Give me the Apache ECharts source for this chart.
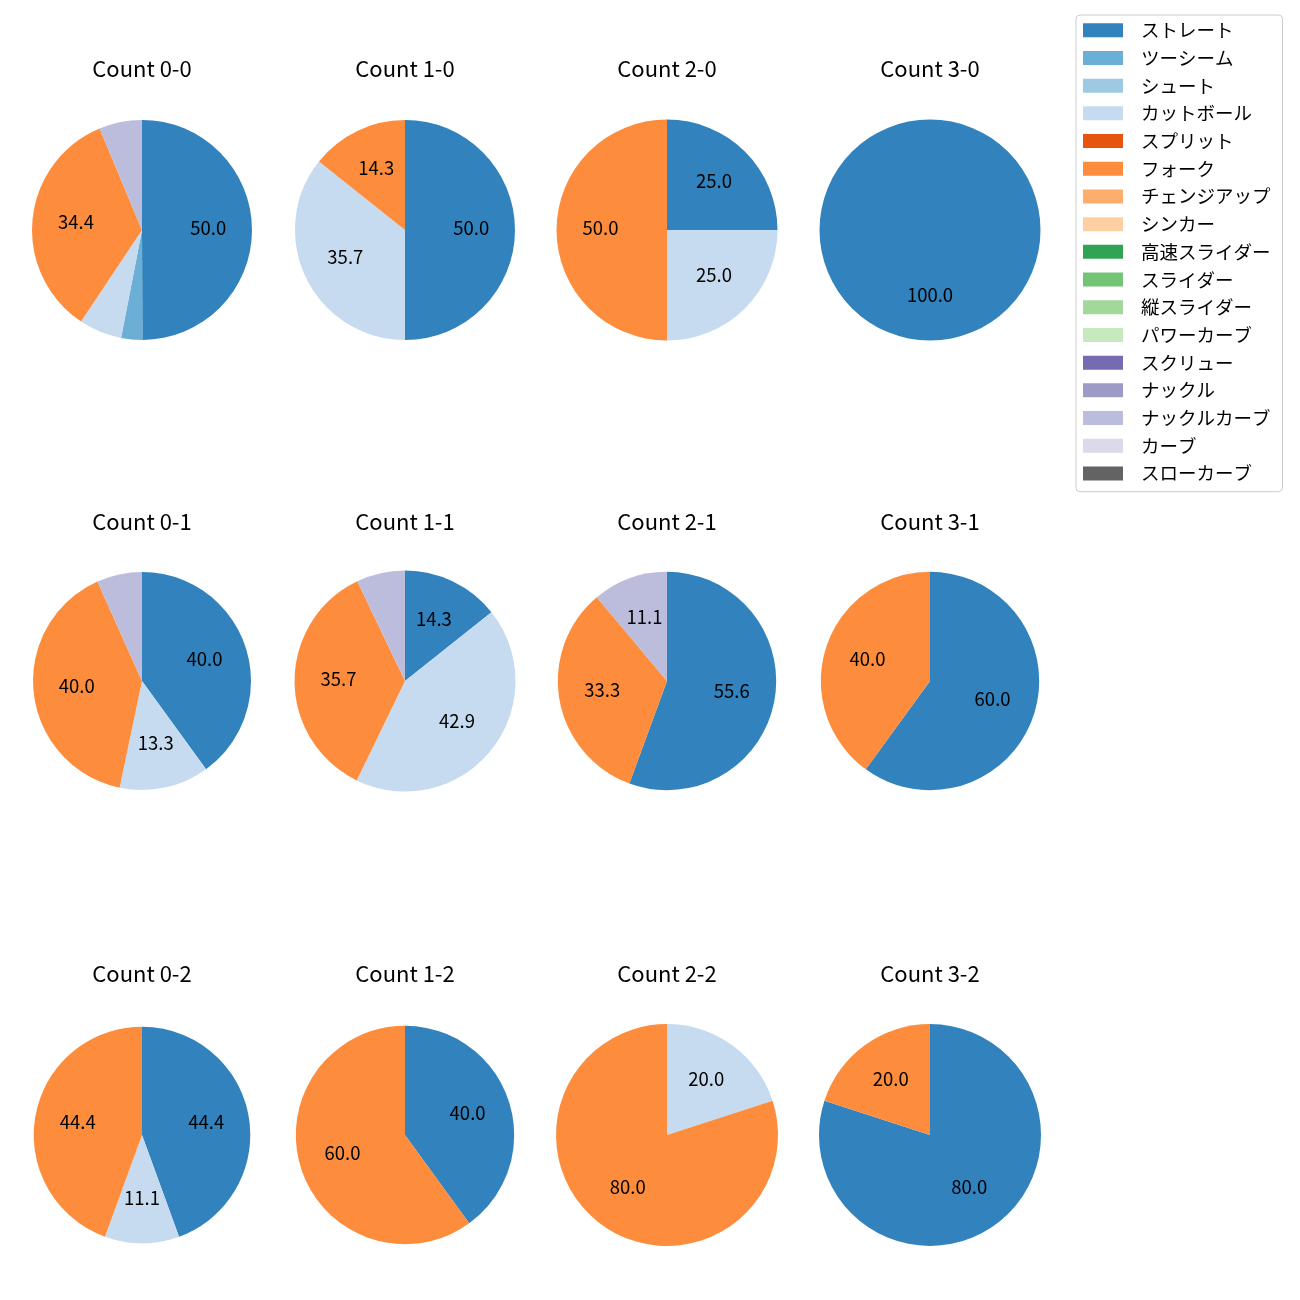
<!DOCTYPE html>
<html>
<head>
<meta charset="utf-8">
<script src="https://cdn.jsdelivr.net/npm/echarts@6/dist/echarts.min.js"></script>
<style>
html,body{margin:0;padding:0;background:#fff;}
#chart{width:1300px;height:1300px;}
</style>
</head>
<body>
<div id="chart"></div>
<script>
// Pitch types (legend order)
const pitchTypes = ['ストレート','ツーシーム','シュート','カットボール','スプリット','フォーク','チェンジアップ','シンカー','高速スライダー','スライダー','縦スライダー','パワーカーブ','スクリュー','ナックル','ナックルカーブ','カーブ','スローカーブ'];
const pitchColors = ['#3182bd','#6baed6','#9ecae1','#c6dbef','#e6550d','#fd8d3c','#fdae6b','#fdd0a2','#31a354','#74c476','#a1d99b','#c7e9c0','#756bb1','#9e9ac8','#bcbddc','#dadaeb','#636363'];

// Count titles
const countTitles = ['Count 0-0','Count 1-0','Count 2-0','Count 3-0','Count 0-1','Count 1-1','Count 2-1','Count 3-1','Count 0-2','Count 1-2','Count 2-2','Count 3-2'];

// Percentages per pitch type (same order as pitchTypes)
const count00 = [50.0, 3.1, 0, 6.3, 0, 34.4, 0, 0, 0, 0, 0, 0, 0, 0, 6.3, 0, 0];
const count10 = [50.0, 0, 0, 35.7, 0, 14.3, 0, 0, 0, 0, 0, 0, 0, 0, 0, 0, 0];
const count20 = [25.0, 0, 0, 25.0, 0, 50.0, 0, 0, 0, 0, 0, 0, 0, 0, 0, 0, 0];
const count30 = [100.0, 0, 0, 0, 0, 0, 0, 0, 0, 0, 0, 0, 0, 0, 0, 0, 0];
const count01 = [40.0, 0, 0, 13.3, 0, 40.0, 0, 0, 0, 0, 0, 0, 0, 0, 6.7, 0, 0];
const count11 = [14.3, 0, 0, 42.9, 0, 35.7, 0, 0, 0, 0, 0, 0, 0, 0, 7.1, 0, 0];
const count21 = [55.6, 0, 0, 0, 0, 33.3, 0, 0, 0, 0, 0, 0, 0, 0, 11.1, 0, 0];
const count31 = [60.0, 0, 0, 0, 0, 40.0, 0, 0, 0, 0, 0, 0, 0, 0, 0, 0, 0];
const count02 = [44.4, 0, 0, 11.1, 0, 44.4, 0, 0, 0, 0, 0, 0, 0, 0, 0, 0, 0];
const count12 = [40.0, 0, 0, 0, 0, 60.0, 0, 0, 0, 0, 0, 0, 0, 0, 0, 0, 0];
const count22 = [0, 0, 0, 20.0, 0, 80.0, 0, 0, 0, 0, 0, 0, 0, 0, 0, 0, 0];
const count32 = [80.0, 0, 0, 0, 0, 20.0, 0, 0, 0, 0, 0, 0, 0, 0, 0, 0, 0];

const allCounts = [count00,count10,count20,count30,count01,count11,count21,count31,count02,count12,count22,count32];

// Layout (pixel centers / radii of each pie, title rows)
const colX = [142, 405, 667, 930];
const rowY = [230, 681, 1135];
const titleY = [69, 522, 974];
const radii = [110, 110, 110.5, 110.5, 109, 110.5, 109.2, 109.2, 108.3, 109.2, 111, 111];

const FONT = 'Noto Sans CJK JP';

const titles = [];
const mainSeries = [];
const labelSeries = [];
allCounts.forEach((vals, i) => {
  const col = i % 4, row = Math.floor(i / 4);
  const cx = colX[col], cy = rowY[row], r = radii[i];
  titles.push({
    text: countTitles[i],
    left: cx, top: titleY[row] - 12, textAlign: 'center', padding: 0,
    textStyle: {fontFamily: FONT, fontSize: 22, fontWeight: 'normal', color: '#000', lineHeight: 24}
  });
  const data = pitchTypes.map((n, k) => ({name: n, value: vals[k], itemStyle: {color: pitchColors[k]}}));
  mainSeries.push({
    type: 'pie', center: [cx, cy], radius: [0, r], startAngle: 90, clockwise: true,
    label: {show: false}, labelLine: {show: false},
    itemStyle: {borderWidth: 0}, emphasis: {disabled: true}, silent: true,
    avoidLabelOverlap: false, minAngle: 0, animation: false,
    data: data
  });
  labelSeries.push({
    type: 'pie', center: [cx, cy], radius: [0.15 * r, r], startAngle: 90, clockwise: true,
    itemStyle: {color: 'rgba(0,0,0,0)', borderWidth: 0}, emphasis: {disabled: true}, silent: true,
    avoidLabelOverlap: false, animation: false, legendHoverLink: false,
    label: {show: true, position: 'inside', fontFamily: FONT, fontSize: 18.5, color: '#000',
      offset: [0, -2],
      formatter: p => (p.value >= 10 ? p.value.toFixed(1) : '')},
    labelLine: {show: false},
    data: pitchTypes.map((n, k) => ({name: n, value: vals[k]}))
  });
});

const chart = echarts.init(document.getElementById('chart'), null, {renderer: 'canvas'});
chart.setOption({
  backgroundColor: '#fff',
  animation: false,
  title: titles,
  legend: {
    data: pitchTypes,
    orient: 'vertical', left: 1076, top: 15,
    padding: [6, 12, 9, 7],
    itemWidth: 40, itemHeight: 14, itemGap: 9.2,
    icon: 'rect',
    borderColor: '#cccccc', borderWidth: 1, borderRadius: 4,
    textStyle: {fontFamily: FONT, fontSize: 18.5, color: '#000', lineHeight: 18, padding: [0, 0, 0, 13]}
  },
  series: mainSeries.concat(labelSeries)
});
</script>
</body>
</html>
